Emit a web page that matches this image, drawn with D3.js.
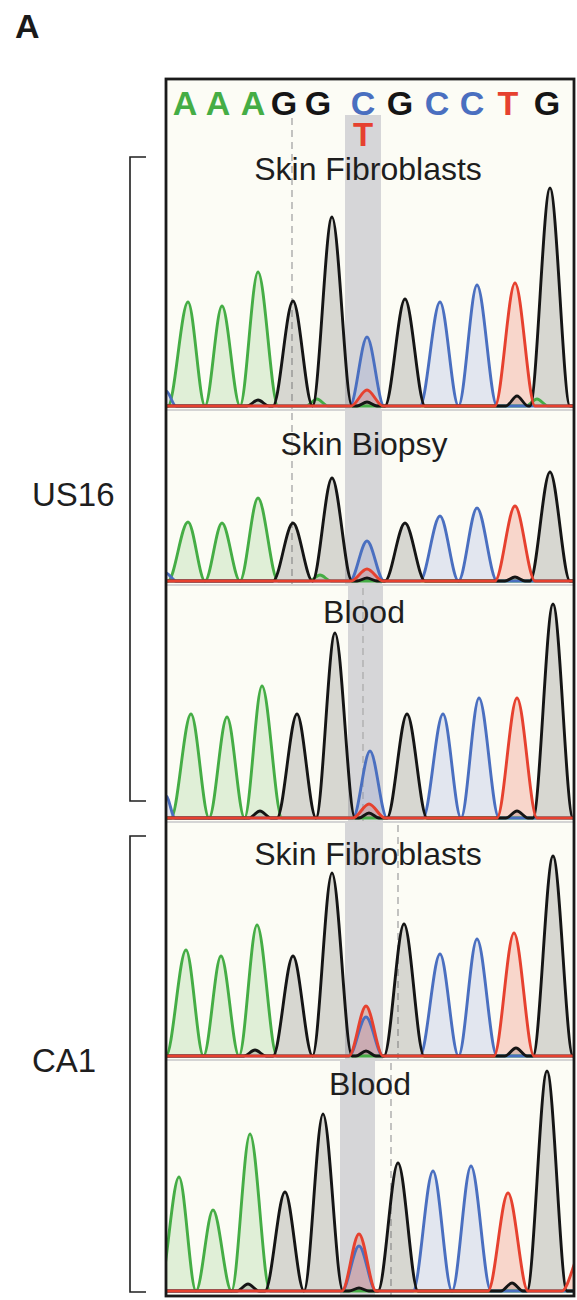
<!DOCTYPE html>
<html>
<head>
<meta charset="utf-8">
<script src="https://cdn.jsdelivr.net/npm/d3@7"></script>
<style>
  body { margin: 0; background: #fff; }
  text { font-family: "Liberation Sans", Arial, sans-serif; }
</style>
</head>
<body>
<div id="chart"></div>
<script>
// base calls along the top of the trace, with their scan positions
const bases = ["A", "A", "A", "G", "G", "C", "G", "C", "C", "T", "G"];
const basePos = [19, 52, 87, 118, 152, 197, 234, 271, 306, 342, 381];
const variantIndex = 5;
const variantBase = "T";

const panelNames = ["Skin Fibroblasts", "Skin Biopsy", "Blood", "Skin Fibroblasts", "Blood"];
const groupNames = ["US16", "CA1"];

// variant window (scan units) and cursor position per panel
const variantWindow = [[179, 215], [179, 216], [182, 217], [179, 217], [174, 209]];
const cursorPos = [126, 126, 197, 232, 225];

// peaks per panel: [scan position, signal, half width (optional)]
const peaksA = [
  [[22, 104], [56, 100], [92, 134], [151, 7, 11], [371, 7, 11]],
  [[22, 59], [56, 58], [92, 83], [154, 6, 11]],
  [[25, 104], [61, 101], [96, 132]],
  [[20, 106], [55, 100], [91, 131]],
  [[13, 114], [47, 81], [84, 157]]
];
const peaksC = [
  [[0, 15, 10], [201, 69, 17], [274, 104], [311, 121]],
  [[0, 8, 10], [201, 40, 17], [274, 65], [311, 73]],
  [[0, 22, 9], [204, 67, 17], [277, 104], [313, 120]],
  [[200, 39, 17], [274, 102], [311, 117]],
  [[193, 45, 17], [267, 120], [305, 125]]
];
const peaksG = [
  [[92, 6, 11], [127, 105], [166, 189], [201, 4, 10], [239, 107], [351, 10, 11], [384, 218]],
  [[127, 58], [166, 103], [201, 3, 10], [239, 58], [349, 4, 10], [384, 109]],
  [[94, 7, 11], [131, 104], [169, 185], [203, 5, 10], [241, 104], [351, 7, 11], [387, 214]],
  [[89, 6, 11], [127, 100], [166, 183], [200, 5, 10], [238, 132], [350, 8, 11], [387, 200]],
  [[82, 7, 11], [119, 99], [157, 177], [193, 3, 10], [232, 128], [346, 8, 11], [381, 220]]
];
const peaksT = [
  [[201, 16, 16], [349, 123]],
  [[201, 12, 16], [349, 75]],
  [[203, 14, 16], [351, 120]],
  [[200, 50, 17], [348, 123]],
  [[193, 57, 17], [342, 98], [416, 40]]
];

const width = 577, height = 1300;
const frame = { left: 166, right: 574, top: 79, bottom: 1296 };
const panelTop = [115, 410, 585, 822, 1060];
const panelBottom = [410, 585, 822, 1060, 1295];
const labelY = [180, 455, 623, 865, 1095];
const labelX = [368, 364, 364, 368, 370];
const peakHalfWidth = 20;

const colors = { A: "#45ad45", C: "#4a6fc0", G: "#151515", T: "#e6412f" };
const fills = {
  A: "rgba(90,180,70,0.17)",
  C: "rgba(80,110,210,0.15)",
  G: "rgba(60,60,55,0.19)",
  T: "rgba(235,80,55,0.22)"
};

const svg = d3.select("#chart").append("svg")
  .attr("width", width)
  .attr("height", height);

const x = d3.scaleLinear().domain([0, 408]).range([frame.left, frame.right]);

// title
svg.append("text")
  .attr("x", 15).attr("y", 38)
  .attr("font-size", 34).attr("font-weight", "bold")
  .attr("fill", "#1a1a1a")
  .text("A");

// frame background
svg.append("rect")
  .attr("x", frame.left).attr("y", frame.top)
  .attr("width", frame.right - frame.left)
  .attr("height", frame.bottom - frame.top)
  .attr("fill", "#fcfcf5");

// turn peak list into a vertex list along the baseline
function traceFrom(peaks) {
  const sorted = peaks.slice().sort((a, b) => a[0] - b[0]);
  const hw = p => p[2] || peakHalfWidth;
  const pts = [[-40, 0]];
  sorted.forEach((p, i) => {
    const left = p[0] - hw(p);
    const prev = sorted[i - 1];
    if (prev) {
      const pr = prev[0] + hw(prev);
      if (pr >= left) {
        pts.push([(pr + left) / 2, 0]);
      } else {
        pts.push([pr, 0]);
        pts.push([left, 0]);
      }
    } else {
      pts.push([left, 0]);
    }
    pts.push([p[0], p[1]]);
  });
  const last = sorted[sorted.length - 1];
  pts.push([last[0] + hw(last), 0]);
  pts.push([460, 0]);
  return pts;
}

const defs = svg.append("defs");

panelNames.forEach((name, i) => {
  const top = panelTop[i], bottom = panelBottom[i];
  const base = bottom - 4;
  const y = d3.scaleLinear().domain([0, 100]).range([base, base - 100]);

  defs.append("clipPath").attr("id", "clip" + i)
    .append("rect")
    .attr("x", frame.left + 1).attr("y", top)
    .attr("width", frame.right - frame.left - 2)
    .attr("height", bottom - top);

  const g = svg.append("g").attr("clip-path", `url(#clip${i})`);

  // variant highlight
  g.append("rect")
    .attr("x", x(variantWindow[i][0]))
    .attr("y", top)
    .attr("width", x(variantWindow[i][1]) - x(variantWindow[i][0]))
    .attr("height", bottom - top)
    .attr("fill", "#d6d6d8");

  // cursor
  g.append("line")
    .attr("x1", x(cursorPos[i])).attr("x2", x(cursorPos[i]))
    .attr("y1", top + 3).attr("y2", bottom)
    .attr("stroke", "#b4b4b4")
    .attr("stroke-width", 1.6)
    .attr("stroke-dasharray", "7,5");

  const area = d3.area()
    .x(d => x(d[0])).y0(y(0)).y1(d => y(d[1]))
    .curve(d3.curveMonotoneX);
  const line = d3.line()
    .x(d => x(d[0])).y(d => y(d[1]))
    .curve(d3.curveMonotoneX);

  [["A", peaksA[i]], ["G", peaksG[i]], ["C", peaksC[i]], ["T", peaksT[i]]].forEach(([b, pk]) => {
    g.append("path")
      .attr("d", area(traceFrom(pk)))
      .attr("fill", fills[b]);
  });

  [["A", peaksA[i]], ["C", peaksC[i]], ["G", peaksG[i]], ["T", peaksT[i]]].forEach(([b, pk]) => {
    g.append("path")
      .attr("d", line(traceFrom(pk)))
      .attr("fill", "none")
      .attr("stroke", colors[b])
      .attr("stroke-width", 2.9)
      .attr("stroke-linejoin", "round");
  });

  // separator under the panel
  if (i < panelNames.length - 1) {
    svg.append("line")
      .attr("x1", frame.left).attr("x2", frame.right)
      .attr("y1", bottom).attr("y2", bottom)
      .attr("stroke", "#d4d4d4")
      .attr("stroke-width", 2);
  }

  svg.append("text")
    .attr("x", labelX[i]).attr("y", labelY[i])
    .attr("text-anchor", "middle")
    .attr("font-size", 32)
    .attr("fill", "#1e1e1e")
    .text(name);
});

// base calls
svg.append("g").selectAll("text")
  .data(bases)
  .join("text")
  .attr("x", (d, i) => x(basePos[i]))
  .attr("y", 115)
  .attr("text-anchor", "middle")
  .attr("font-size", 34)
  .attr("font-weight", "bold")
  .attr("fill", d => colors[d])
  .text(d => d);

svg.append("text")
  .attr("x", x(basePos[variantIndex]))
  .attr("y", 146)
  .attr("text-anchor", "middle")
  .attr("font-size", 33)
  .attr("font-weight", "bold")
  .attr("fill", colors[variantBase])
  .text(variantBase);

// frame border
svg.append("rect")
  .attr("x", frame.left).attr("y", frame.top)
  .attr("width", frame.right - frame.left)
  .attr("height", frame.bottom - frame.top)
  .attr("fill", "none")
  .attr("stroke", "#1a1a1a")
  .attr("stroke-width", 2.8);

// patient brackets
const brackets = [[157, 801], [836, 1292]];
const groupLabelY = [506, 1072];
brackets.forEach(([y0, y1], i) => {
  svg.append("path")
    .attr("d", `M146,${y0}H130V${y1}H146`)
    .attr("fill", "none")
    .attr("stroke", "#1f1f1f")
    .attr("stroke-width", 1.6);
  svg.append("text")
    .attr("x", 32).attr("y", groupLabelY[i])
    .attr("font-size", 33)
    .attr("fill", "#1e1e1e")
    .text(groupNames[i]);
});
</script>
</body>
</html>
